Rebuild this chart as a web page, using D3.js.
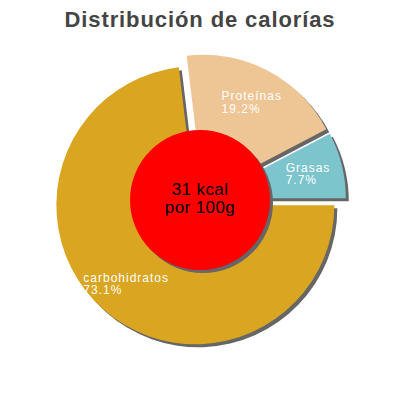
<!DOCTYPE html>
<html>
<head>
<meta charset="utf-8">
<script src="https://cdn.jsdelivr.net/npm/d3@7"></script>
<style>
  body { margin: 0; background: #fff; }
  text { font-family: "Liberation Sans", Arial, sans-serif; }
</style>
</head>
<body>
<div id="viz"></div>
<script>
var labels = ["carbohidratos", "Proteínas", "Grasas"];
var values = [73.1, 19.2, 7.7];
var colors = ["#DAA520", "#EEC594", "#7CC5CD"];
var kcalText = ["31 kcal", "por 100g"];

var W = 400, H = 400;
var cx = 200, cy = 200, R = 139, explode = 7;

var svg = d3.select("#viz").append("svg")
  .attr("width", W)
  .attr("height", H);

svg.append("text")
  .attr("x", W / 2)
  .attr("y", 27)
  .attr("text-anchor", "middle")
  .attr("font-size", 22)
  .attr("font-weight", "bold")
  .attr("letter-spacing", 0.9)
  .attr("fill", "#444")
  .text("Distribución de calorías");

// start at 3 o'clock, clockwise
var pie = d3.pie().sort(null)
  .startAngle(Math.PI / 2)
  .endAngle(Math.PI / 2 + 2 * Math.PI);
var arcs = pie(values);
var arc = d3.arc().innerRadius(0).outerRadius(R);

function offset(d) {
  var a = (d.startAngle + d.endAngle) / 2;
  return [cx + Math.sin(a) * explode, cy - Math.cos(a) * explode];
}

var g = svg.append("g");

g.selectAll(".shadow").data(arcs).enter().append("path")
  .attr("class", "shadow")
  .attr("d", arc)
  .attr("fill", "#666")
  .attr("transform", function(d) { var o = offset(d); return "translate(" + (o[0] + 3) + "," + (o[1] + 3) + ")"; });

g.selectAll(".slice").data(arcs).enter().append("path")
  .attr("class", "slice")
  .attr("d", arc)
  .attr("fill", function(d, i) { return colors[i]; })
  .attr("transform", function(d) { var o = offset(d); return "translate(" + o[0] + "," + o[1] + ")"; });

// labels: two left-aligned lines, block centred on the slice
arcs.forEach(function(d, i) {
  var o = offset(d);
  var a = (d.startAngle + d.endAngle) / 2;
  var r = R * 0.75;
  var px = o[0] + Math.sin(a) * r, py = o[1] - Math.cos(a) * r;
  var lines = [labels[i], values[i] + "%"];
  var ts = lines.map(function(s, k) {
    return svg.append("text")
      .attr("font-size", 12)
      .attr("letter-spacing", 1)
      .attr("fill", "#fff")
      .attr("y", py - 1.5 + k * 12.5)
      .text(s);
  });
  var w = d3.max(ts, function(t) { return t.node().getComputedTextLength(); });
  ts.forEach(function(t) { t.attr("x", px - w / 2); });
});

// center circle
svg.append("circle")
  .attr("cx", cx + 3).attr("cy", cy + 3).attr("r", 70)
  .attr("fill", "#666");
svg.append("circle")
  .attr("cx", cx).attr("cy", cy).attr("r", 70)
  .attr("fill", "#ff0000");

svg.selectAll(".kcal").data(kcalText).enter().append("text")
  .attr("class", "kcal")
  .attr("text-anchor", "middle")
  .attr("font-size", 17)
  .attr("letter-spacing", 0.4)
  .attr("fill", "#000")
  .attr("x", cx)
  .attr("y", function(d, i) { return 195 + i * 18; })
  .text(function(d) { return d; });
</script>
</body>
</html>
